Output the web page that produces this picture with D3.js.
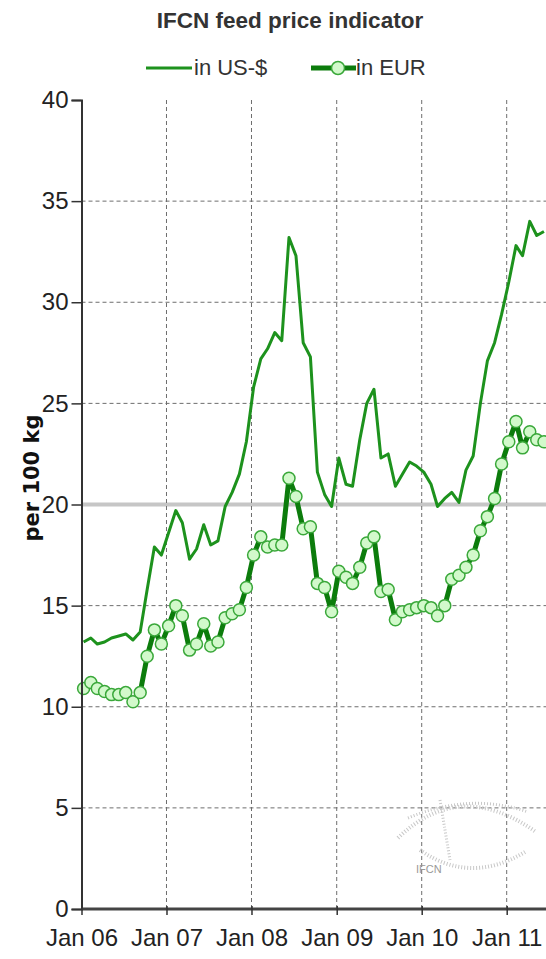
<!DOCTYPE html>
<html><head><meta charset="utf-8">
<script src="https://cdn.jsdelivr.net/npm/d3@7/dist/d3.min.js"></script>
<style>body{margin:0;background:#fff}svg{display:block}</style>
</head><body><div id="chart"></div>
<script>
// ---- data ----
const months = [
 "2006-01","2006-02","2006-03","2006-04","2006-05","2006-06","2006-07","2006-08","2006-09","2006-10","2006-11","2006-12",
 "2007-01","2007-02","2007-03","2007-04","2007-05","2007-06","2007-07","2007-08","2007-09","2007-10","2007-11","2007-12",
 "2008-01","2008-02","2008-03","2008-04","2008-05","2008-06","2008-07","2008-08","2008-09","2008-10","2008-11","2008-12",
 "2009-01","2009-02","2009-03","2009-04","2009-05","2009-06","2009-07","2009-08","2009-09","2009-10","2009-11","2009-12",
 "2010-01","2010-02","2010-03","2010-04","2010-05","2010-06","2010-07","2010-08","2010-09","2010-10","2010-11","2010-12",
 "2011-01","2011-02","2011-03","2011-04","2011-05","2011-06"];
const usd = [
 13.2,13.4,13.1,13.2,13.4,13.5,13.6,13.3,13.7,15.8,17.9,17.5,
 18.6,19.7,19.1,17.3,17.8,19.0,18.0,18.2,19.9,20.6,21.5,23.1,
 25.8,27.2,27.7,28.5,28.1,33.2,32.3,28.0,27.3,21.6,20.5,19.9,
 22.3,21.0,20.9,23.2,25.0,25.7,22.3,22.5,20.9,21.5,22.1,21.9,
 21.6,21.0,19.9,20.3,20.6,20.1,21.7,22.4,25.0,27.1,28.0,29.4,
 31.0,32.8,32.3,34.0,33.3,33.5];
const eur = [
 10.9,11.2,10.9,10.75,10.6,10.6,10.7,10.25,10.7,12.5,13.8,13.1,
 14.0,15.0,14.5,12.8,13.1,14.1,13.0,13.2,14.4,14.6,14.8,15.9,
 17.5,18.4,17.9,18.0,18.0,21.3,20.4,18.8,18.9,16.1,15.9,14.7,
 16.7,16.4,16.1,16.9,18.1,18.4,15.7,15.8,14.3,14.7,14.8,14.9,
 15.0,14.9,14.5,15.0,16.3,16.5,16.9,17.5,18.7,19.4,20.3,22.0,
 23.1,24.1,22.8,23.6,23.2,23.1];
const yTicks = [0,5,10,15,20,25,30,35,40];
const xTickDates = ["2006-01","2007-01","2008-01","2009-01","2010-01","2011-01"];
const xTickLabels = ["Jan 06","Jan 07","Jan 08","Jan 09","Jan 10","Jan 11"];
const seriesNames = ["in US-$","in EUR"];
const title = "IFCN feed price indicator";
const yTitle = "per 100 kg";

// ---- layout ----
const W = 546, H = 959;
const FONT = "'Liberation Sans', Arial, sans-serif";
const parse = d3.timeParse("%Y-%m");
const svg = d3.select("#chart").append("svg").attr("width", W).attr("height", H)
  .style("font-family", FONT);

const x = d3.scaleTime().domain([parse("2006-01"), parse("2011-01")]).range([81.5, 506.7]);
const y = d3.scaleLinear().domain([0, 40]).range([909, 100]);
const px = s => x(d3.timeDay.offset(parse(s), 9));
const right = 560;
const US_COL = "#1d921d", EUR_COL = "#0c7c0c";

// horizontal grid
svg.append("g").selectAll("line").data(yTicks.filter(t => t > 0 && t < 40 && t !== 20)).join("line")
  .attr("x1", 81.5).attr("x2", right).attr("y1", d => y(d)).attr("y2", d => y(d))
  .attr("stroke", "#6e6e6e").attr("stroke-width", 1).attr("stroke-dasharray", "4,3");
svg.append("line").attr("x1", 81.5).attr("x2", right).attr("y1", y(20)).attr("y2", y(20))
  .attr("stroke", "#c6c6c6").attr("stroke-width", 4);
// vertical grid
svg.append("g").selectAll("line").data(xTickDates.slice(1)).join("line")
  .attr("x1", d => x(parse(d))).attr("x2", d => x(parse(d))).attr("y1", y(40)).attr("y2", y(0))
  .attr("stroke", "#6e6e6e").attr("stroke-width", 1).attr("stroke-dasharray", "4,3");

// watermark
const wm = svg.append("g").attr("fill", "none").attr("stroke", "#c8c8c8");
wm.append("path").attr("d", "M398,838 Q460,778 536,832").attr("stroke-width", 4).attr("stroke-dasharray", "1,2");
wm.append("path").attr("d", "M408,818 Q470,792 528,812").attr("stroke-width", 3).attr("stroke-dasharray", "1,2");
wm.append("path").attr("d", "M420,850 Q470,885 525,852").attr("stroke-width", 4).attr("stroke-dasharray", "1,2");
wm.append("path").attr("d", "M440,800 Q445,830 450,860").attr("stroke-width", 3).attr("stroke-dasharray", "1,2");
svg.append("text").attr("x", 416).attr("y", 873).attr("font-size", 11).attr("fill", "#999").text("IFCN");

// lines
const line = d3.line().x((d, i) => px(months[i])).y(d => y(d));
svg.append("path").datum(usd).attr("d", line).attr("fill", "none")
  .attr("stroke", US_COL).attr("stroke-width", 3).attr("stroke-linejoin", "round");
svg.append("path").datum(eur).attr("d", line).attr("fill", "none")
  .attr("stroke", EUR_COL).attr("stroke-width", 5).attr("stroke-linejoin", "round");
svg.append("g").selectAll("circle").data(eur).join("circle")
  .attr("cx", (d, i) => px(months[i])).attr("cy", d => y(d)).attr("r", 6)
  .attr("fill", "#d2f9cb").attr("stroke", "#3aa83a").attr("stroke-width", 1.5);

// axes
const ya = svg.append("g").attr("transform", "translate(81.5,0)")
  .call(d3.axisLeft(y).tickValues(yTicks).tickSize(10).tickPadding(3));
ya.select(".domain").attr("stroke", "#333").attr("stroke-width", 2);
ya.selectAll(".tick line").attr("stroke", "#333").attr("stroke-width", 1.5);
ya.selectAll("text").attr("font-size", 24).attr("fill", "#222").attr("font-family", FONT);

const xa = svg.append("g").attr("transform", "translate(0,909)")
  .call(d3.axisBottom(x).tickValues(xTickDates.map(parse)).tickFormat((d, i) => xTickLabels[i]).tickSize(6).tickSizeOuter(0).tickPadding(14));
xa.select(".domain").attr("d", `M81.5,0H${right}`).attr("stroke", "#444").attr("stroke-width", 3);
xa.selectAll(".tick line").attr("stroke", "#333").attr("stroke-width", 1.5).attr("y1", -3);
xa.selectAll("text").attr("font-size", 24).attr("fill", "#222").attr("font-family", FONT);

// titles
svg.append("text").attr("x", 290).attr("y", 28).attr("text-anchor", "middle")
  .attr("font-size", 22.5).attr("font-weight", "bold").attr("fill", "#333").text(title);
svg.append("text").attr("transform", "translate(39,478) rotate(-90)").attr("text-anchor", "middle")
  .attr("font-family", "'DejaVu Sans', Verdana, sans-serif")
  .attr("font-size", 21).attr("font-weight", "bold").attr("fill", "#111").text(yTitle);

// legend
const lg = svg.append("g");
lg.append("line").attr("x1", 146).attr("x2", 192).attr("y1", 68).attr("y2", 68).attr("stroke", US_COL).attr("stroke-width", 3);
lg.append("text").attr("x", 194).attr("y", 75).attr("font-size", 22).attr("fill", "#333").text(seriesNames[0]);
lg.append("line").attr("x1", 311).attr("x2", 356).attr("y1", 68).attr("y2", 68).attr("stroke", EUR_COL).attr("stroke-width", 5);
lg.append("circle").attr("cx", 338).attr("cy", 68).attr("r", 6.5).attr("fill", "#d2f9cb").attr("stroke", "#3aa83a").attr("stroke-width", 1.5);
lg.append("text").attr("x", 356).attr("y", 75).attr("font-size", 22).attr("fill", "#333").text(seriesNames[1]);
</script></body></html>
